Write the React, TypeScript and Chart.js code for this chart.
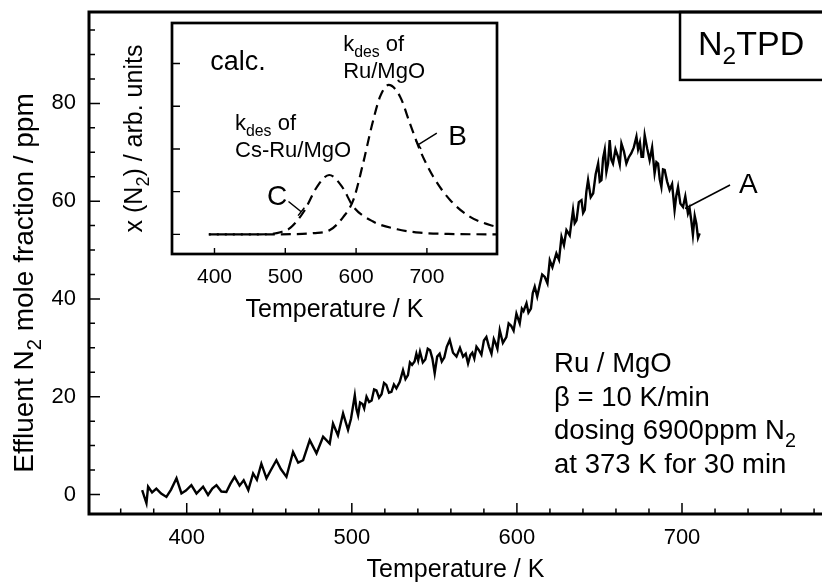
import React, { useEffect, useRef } from "react";
import { Chart, registerables } from "chart.js";

Chart.register(...registerables);

const FONT = "'Liberation Sans', Arial, Helvetica, sans-serif";

// ---------- main TPD trace (curve A) ----------
const temperatureK = [
  373, 375.6, 376.6, 379, 381.6, 384.5, 387.7, 390.5, 393.8, 396.8, 399.5, 402.8, 405.9, 409.9, 412.9,
  415.5, 418, 421, 424, 426.5, 429, 432, 434.5, 437.3, 440.2, 442.5, 445.2, 448.3, 451, 454.3, 457,
  460.4, 464.4, 467.5, 470.5, 474.5, 478.6, 482.6, 486.6, 488.6, 491.6, 494.7, 497.7,
  499.5, 501.8, 502.8, 503.8, 505, 506.5, 507.5, 508.9, 510.5, 512, 513.5, 514.9, 516.5, 518, 519.5,
  520.9, 522.5, 524, 525.5, 527, 529, 531, 532.5, 534, 535.2, 536.5, 538, 539.1, 540.2, 541.3, 543,
  544.5, 546, 547.4, 548.8, 550.2, 551.7, 553.2, 554.5, 556, 557.5, 559.3, 561.3, 563.4, 565.5, 567.4,
  569, 570.4, 571.8, 573, 574.2, 575.5, 577, 578.5, 580, 581.5, 583, 584.6, 586, 587, 588.2, 589.6,
  591.5, 593.6, 595, 596.5, 598, 599.7, 601.7, 603, 604, 605.8, 607, 608.5, 609.6, 610.8, 612.3, 613.8,
  615.3, 616.9, 618.5, 619.9, 621.5, 623.9, 625.5, 627, 628.5, 630, 632, 634, 635, 636.1, 637.5, 639.1,
  640.1, 641.1, 642.1, 643.1, 644.7, 646.2, 647.7, 649.2, 650.2, 651.2, 652.2, 653.2, 654.2, 655.2,
  656.2, 657.2, 658.2, 659.7, 661.2, 662.3, 663.3, 664.8, 666.3, 667.8, 669.3, 670.8, 672.4, 673.4,
  674.5, 675.5, 676.4, 677.4, 678.9, 680.4, 681.9, 683.4, 684.5, 685.5, 686.5, 687.5, 688.5, 689.5,
  691, 692.5, 694, 695.5, 696.5, 697.6, 699, 700.6, 702, 703.6, 704.6, 705.6, 706.6, 707.7, 708.7,
  709.7, 710.7,
];
const effluentPpm = [
  0.9, -1.8, 1.6, 0.4, 1.2, 0.2, -0.5, 1.0, 3.3, 0.2, 0.8, 1.9, 0.2, 1.6, -0.1,
  1.2, 1.9, 0.6, 0.5, 2.2, 3.6, 1.8, 2.9, 0.9, 4.3, 3.0, 6.3, 3.3, 5.0, 7.0, 5.2,
  3.6, 8.7, 6.5, 7.0, 11.1, 8.4, 11.8, 10.4, 14.5, 12.1, 16.6, 13.2,
  15.5, 20.3, 17.5, 16.2, 18.8, 18.5, 17.6, 20.0, 18.9, 19.2, 21.5, 21.3, 19.8, 20.5, 22.8,
  22.4, 20.8, 21.0, 22.5, 21.7, 23.0, 25.4, 23.6, 24.4, 27.0, 26.5, 27.2, 28.8, 27.4, 29.2, 27.0,
  27.6, 29.8, 29.5, 27.8, 24.8, 28.2, 28.8, 27.2, 28.0, 30.2, 31.6, 29.0, 28.2, 30.0, 28.2,
  28.8, 26.8, 28.5, 29.0, 27.8, 30.2, 29.5, 28.6, 31.5, 32.2, 30.3, 28.8, 31.8, 31.0, 29.8, 33.6,
  31.0, 32.2, 35.0, 34.5, 33.5, 37.0, 35.0, 38.0, 37.5, 39.1, 37.2, 38.0, 41.2, 42.5, 40.5, 42.8,
  45.0, 44.5, 43.2, 47.9, 46.5, 49.3, 48.0, 52.7, 51.0, 54.1, 53.0, 58.2, 55.5, 56.1, 59.8, 60.2,
  57.6, 58.2, 62.0, 64.3, 60.8, 61.6, 65.5, 67.7, 64.0, 64.3, 68.8, 70.5, 66.0, 67.7,
  72.5, 68.5, 67.7, 70.6, 69.1, 67.5, 71.8, 70.2, 67.7, 69.0, 69.8, 71.0, 73.2, 70.6,
  72.0, 69.1, 69.1, 73.5, 70.8, 68.4, 71.0, 65.7, 68.0, 67.7, 64.5, 62.9, 66.5, 66.4,
  64.0, 62.3, 63.5, 58.2, 61.0, 62.9, 59.5, 58.8, 61.0, 57.5, 58.5, 56.1, 53.1, 57.0, 55.4,
  52.5, 53.4,
];
const mainXTicks = [400, 500, 600, 700];
const mainXMinor = [360, 380, 420, 440, 460, 480, 520, 540, 560, 580, 620, 640, 660, 680, 720, 740, 760, 780];
const mainYTicks = [0, 20, 40, 60, 80];
const mainYMinor = [5, 10, 15, 25, 30, 35, 45, 50, 55, 65, 70, 75, 85, 90, 95];

// ---------- inset: calculated curves ----------
const insetTempB = [392, 430, 470, 510, 540, 563, 582, 596, 610, 622, 634, 646, 662, 676, 690, 709, 733, 761, 789, 798];
const insetB = [0, 0, 0, 0.005, 0.03, 0.1, 0.41, 0.8, 1.67, 2.53, 3.23, 3.5, 3.23, 2.6, 1.98, 1.35, 0.8, 0.41, 0.22, 0.18];
const insetTempC = [392, 430, 465, 480, 493, 507, 526, 545, 562, 580, 596, 624, 658, 690, 730, 798];
const insetC = [0, 0, 0, 0.01, 0.05, 0.15, 0.53, 1.12, 1.39, 1.12, 0.65, 0.3, 0.12, 0.04, 0.01, 0];
const insetXTicks = [400, 500, 600, 700];
const insetYTicks = [0, 1, 2, 3, 4];

type Seg = { t: string; sub?: boolean };

function drawRich(
  ctx: CanvasRenderingContext2D,
  segs: Seg[],
  x: number,
  y: number,
  size: number,
  align: "left" | "center" = "left",
  rotate = false
) {
  ctx.save();
  ctx.translate(x, y);
  if (rotate) ctx.rotate(-Math.PI / 2);
  ctx.fillStyle = "#000";
  ctx.textAlign = "left";
  ctx.textBaseline = "alphabetic";
  const subSize = size * 0.72;
  let w = 0;
  for (const s of segs) {
    ctx.font = `${s.sub ? subSize : size}px ${FONT}`;
    w += ctx.measureText(s.t).width;
  }
  let cx = align === "center" ? -w / 2 : 0;
  for (const s of segs) {
    ctx.font = `${s.sub ? subSize : size}px ${FONT}`;
    ctx.fillText(s.t, cx, s.sub ? size * 0.27 : 0);
    cx += ctx.measureText(s.t).width;
  }
  ctx.restore();
}

function leader(ctx: CanvasRenderingContext2D, x1: number, y1: number, x2: number, y2: number, bar: number) {
  ctx.beginPath();
  ctx.moveTo(x1, y1);
  ctx.lineTo(x2, y2);
  if (bar > 0) {
    const dx = x2 - x1;
    const dy = y2 - y1;
    const len = Math.hypot(dx, dy);
    const nx = -dy / len;
    const ny = dx / len;
    ctx.moveTo(x2 - (nx * bar) / 2, y2 - (ny * bar) / 2);
    ctx.lineTo(x2 + (nx * bar) / 2, y2 + (ny * bar) / 2);
  }
  ctx.stroke();
}

const mainDeco = {
  id: "mainDeco",
  afterDraw(chart: any) {
    const { ctx, chartArea: a } = chart;
    const x = chart.scales.x;
    const y = chart.scales.y;
    ctx.save();
    ctx.strokeStyle = "#000";
    ctx.lineWidth = 3;
    ctx.beginPath();
    ctx.moveTo(a.right + 5, a.top);
    ctx.lineTo(a.left, a.top);
    ctx.lineTo(a.left, a.bottom);
    ctx.lineTo(a.right + 5, a.bottom);
    ctx.stroke();

    ctx.lineWidth = 1.5;
    ctx.beginPath();
    for (const v of mainXTicks) {
      const p = x.getPixelForValue(v);
      ctx.moveTo(p, a.bottom);
      ctx.lineTo(p, a.bottom - 11);
    }
    for (const v of mainXMinor) {
      const p = x.getPixelForValue(v);
      ctx.moveTo(p, a.bottom);
      ctx.lineTo(p, a.bottom - 5.5);
    }
    for (const v of mainYTicks) {
      const p = y.getPixelForValue(v);
      ctx.moveTo(a.left, p);
      ctx.lineTo(a.left + 11, p);
    }
    for (const v of mainYMinor) {
      const p = y.getPixelForValue(v);
      ctx.moveTo(a.left, p);
      ctx.lineTo(a.left + 6, p);
    }
    ctx.stroke();

    // axis titles
    drawRich(ctx, [{ t: "Temperature / K" }], (a.left + a.right) / 2, a.bottom + 63, 25, "center");
    drawRich(
      ctx,
      [{ t: "Effluent N" }, { t: "2", sub: true }, { t: " mole fraction / ppm" }],
      33,
      a.top + 271,
      28,
      "center",
      true
    );

    // N2TPD box
    const bl = x.getPixelForValue(698.8);
    const bb = y.getPixelForValue(84.8);
    ctx.lineWidth = 2.5;
    ctx.strokeRect(bl, a.top, a.right + 10 - bl, bb - a.top);
    drawRich(ctx, [{ t: "N" }, { t: "2", sub: true }, { t: "TPD" }], bl + 18, y.getPixelForValue(89.9), 34);

    // curve label A
    ctx.lineWidth = 1.5;
    leader(ctx, x.getPixelForValue(729.1), y.getPixelForValue(63.3), x.getPixelForValue(701.8), y.getPixelForValue(58.5), 0);
    drawRich(ctx, [{ t: "A" }], x.getPixelForValue(734.5), y.getPixelForValue(61.6), 28);

    // experiment conditions
    const tx = x.getPixelForValue(622.5);
    const ty = y.getPixelForValue(25.1);
    const lines: Seg[][] = [
      [{ t: "Ru / MgO" }],
      [{ t: "β = 10 K/min" }],
      [{ t: "dosing 6900ppm N" }, { t: "2", sub: true }],
      [{ t: "at 373 K for 30 min" }],
    ];
    lines.forEach((l, i) => drawRich(ctx, l, tx, ty + i * 33.8, 27.5));
    ctx.restore();
  },
};

const insetDeco = {
  id: "insetDeco",
  afterDraw(chart: any) {
    const { ctx, chartArea: a } = chart;
    const x = chart.scales.x;
    const y = chart.scales.y;
    ctx.save();
    ctx.strokeStyle = "#000";
    ctx.lineWidth = 2.7;
    ctx.strokeRect(a.left, a.top, a.right - a.left, a.bottom - a.top);
    ctx.lineWidth = 1.4;
    ctx.beginPath();
    for (const v of insetXTicks) {
      const p = x.getPixelForValue(v);
      ctx.moveTo(p, a.bottom);
      ctx.lineTo(p, a.bottom - 6);
    }
    for (const v of insetYTicks) {
      const p = y.getPixelForValue(v);
      ctx.moveTo(a.left, p);
      ctx.lineTo(a.left + 8, p);
    }
    ctx.stroke();

    drawRich(ctx, [{ t: "Temperature / K" }], (a.left + a.right) / 2, a.bottom + 63, 25, "center");
    drawRich(
      ctx,
      [{ t: "x (N" }, { t: "2", sub: true }, { t: ") / arb. units" }],
      40,
      (a.top + a.bottom) / 2,
      25,
      "center",
      true
    );

    drawRich(ctx, [{ t: "calc." }], x.getPixelForValue(394), y.getPixelForValue(3.85), 27);
    drawRich(ctx, [{ t: "k" }, { t: "des", sub: true }, { t: " of" }], x.getPixelForValue(581.7), y.getPixelForValue(4.29), 22);
    drawRich(ctx, [{ t: "Ru/MgO" }], x.getPixelForValue(581.7), y.getPixelForValue(3.66), 22);
    drawRich(ctx, [{ t: "k" }, { t: "des", sub: true }, { t: " of" }], x.getPixelForValue(429), y.getPixelForValue(2.45), 22);
    drawRich(ctx, [{ t: "Cs-Ru/MgO" }], x.getPixelForValue(429), y.getPixelForValue(1.82), 22);
    drawRich(ctx, [{ t: "C" }], x.getPixelForValue(474), y.getPixelForValue(0.69), 28);
    drawRich(ctx, [{ t: "B" }], x.getPixelForValue(730), y.getPixelForValue(2.1), 28);

    ctx.lineWidth = 1.5;
    leader(ctx, x.getPixelForValue(504.5), y.getPixelForValue(0.77), x.getPixelForValue(522.5), y.getPixelForValue(0.53), 10);
    leader(ctx, x.getPixelForValue(714), y.getPixelForValue(2.37), x.getPixelForValue(688), y.getPixelForValue(2.1), 10);
    ctx.restore();
  },
};

export default function App() {
  const mainRef = useRef<HTMLCanvasElement>(null);
  const insetRef = useRef<HTMLCanvasElement>(null);

  useEffect(() => {
    Chart.defaults.font.family = FONT;
    Chart.defaults.color = "#000";

    const main = new Chart(mainRef.current!, {
      type: "line",
      data: {
        datasets: [
          {
            data: temperatureK.map((t, i) => ({ x: t, y: effluentPpm[i] })),
            borderColor: "#000",
            borderWidth: 2.4,
            pointRadius: 0,
            tension: 0,
            fill: false,
          },
        ],
      },
      options: {
        animation: false,
        responsive: false,
        devicePixelRatio: 1,
        layout: { padding: { top: 12, left: 0, right: 0, bottom: 0 } },
        plugins: { legend: { display: false }, tooltip: { enabled: false }, title: { display: false } },
        scales: {
          x: {
            type: "linear",
            min: 340.8,
            max: 784.8,
            grid: { display: false, drawTicks: false },
            border: { display: false },
            afterBuildTicks: (s: any) => {
              s.ticks = mainXTicks.map((v) => ({ value: v }));
            },
            afterFit: (s: any) => {
              s.height = 69;
              s.paddingLeft = 0;
              s.paddingRight = 0;
            },
            ticks: { font: { size: 22 }, padding: 11, color: "#000", maxRotation: 0, autoSkip: false },
          },
          y: {
            type: "linear",
            min: -4.0,
            max: 98.7,
            grid: { display: false, drawTicks: false },
            border: { display: false },
            afterBuildTicks: (s: any) => {
              s.ticks = mainYTicks.map((v) => ({ value: v }));
            },
            afterFit: (s: any) => {
              s.width = 89;
              s.paddingTop = 0;
              s.paddingBottom = 0;
            },
            ticks: { font: { size: 22 }, padding: 13, color: "#000", autoSkip: false },
          },
        },
      },
      plugins: [mainDeco],
    } as any);

    const inset = new Chart(insetRef.current!, {
      type: "line",
      data: {
        datasets: [
          {
            data: insetTempB.map((t, i) => ({ x: t, y: insetB[i] })),
            borderColor: "#000",
            borderWidth: 2.2,
            borderDash: [10, 6],
            borderDashOffset: 8,
            pointRadius: 0,
            cubicInterpolationMode: "monotone",
            fill: false,
          },
          {
            data: insetTempC.map((t, i) => ({ x: t, y: insetC[i] })),
            borderColor: "#000",
            borderWidth: 2.2,
            borderDash: [10, 6],
            pointRadius: 0,
            cubicInterpolationMode: "monotone",
            fill: false,
          },
        ],
      },
      options: {
        animation: false,
        responsive: false,
        devicePixelRatio: 1,
        layout: { padding: { top: 9, left: 0, right: 15, bottom: 0 } },
        plugins: { legend: { display: false }, tooltip: { enabled: false }, title: { display: false } },
        scales: {
          x: {
            type: "linear",
            min: 340,
            max: 799,
            grid: { display: false, drawTicks: false },
            border: { display: false },
            afterBuildTicks: (s: any) => {
              s.ticks = insetXTicks.map((v) => ({ value: v }));
            },
            afterFit: (s: any) => {
              s.height = 70;
              s.paddingLeft = 0;
              s.paddingRight = 0;
            },
            ticks: { font: { size: 21 }, padding: 11, color: "#000", maxRotation: 0, autoSkip: false },
          },
          y: {
            type: "linear",
            min: -0.46,
            max: 4.95,
            grid: { display: false, drawTicks: false },
            border: { display: false },
            afterBuildTicks: (s: any) => {
              s.ticks = insetYTicks.map((v) => ({ value: v }));
            },
            afterFit: (s: any) => {
              s.width = 70;
              s.paddingTop = 0;
              s.paddingBottom = 0;
            },
            ticks: { display: false },
          },
        },
      },
      plugins: [insetDeco],
    } as any);

    return () => {
      main.destroy();
      inset.destroy();
    };
  }, []);

  return (
    <div style={{ position: "fixed", left: 0, top: 0, width: 822, height: 583, background: "#fff" }}>
      <canvas ref={mainRef} width={822} height={583} style={{ position: "absolute", left: 0, top: 0 }} />
      <canvas ref={insetRef} width={410} height={310} style={{ position: "absolute", left: 102, top: 14 }} />
    </div>
  );
}
